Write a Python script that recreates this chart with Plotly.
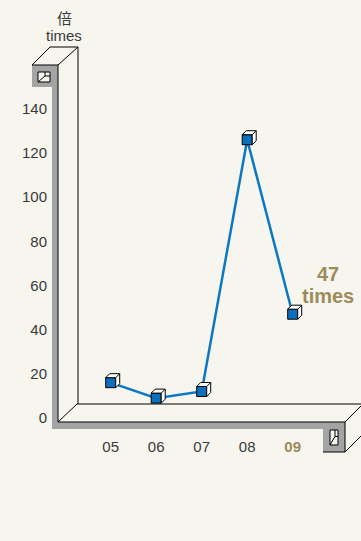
import plotly.graph_objects as go

# ---- data ----
years = ["05", "06", "07", "08", "09"]
values = [16, 9, 12, 126, 47]
y_ticks = [0, 20, 40, 60, 80, 100, 120, 140]
highlight_year = "09"
highlight_num = "47"
highlight_unit = "times"
unit_cn = "倍"
unit_en = "times"

# ---- style ----
BG = "#f6f5ee"
GRAY = "#a4a4a4"
GOLD = "#9d8b5b"
LINE_BLUE = "#0a78c4"
FACE_BLUE = "#0b6fbe"
TXT = "#3a3a3a"
FONT = "Liberation Sans, Arial, sans-serif"

W, H = 361, 541
L, R, T, B = 48, 0, 60, 105
PW, PH = W - L - R, H - T - B


def px(x):
    return (x - L) / PW


def py(y):
    return (H - B - y) / PH


def path(pts, close=True):
    s = "M " + " L ".join(f"{px(a):.5f},{py(b):.5f}" for a, b in pts)
    return s + (" Z" if close else "")


xs = list(range(len(years)))
ticktext = [
    f"<b><span style='color:{GOLD}'>{y}</span></b>" if y == highlight_year else y
    for y in years
]

fig = go.Figure()
fig.add_trace(go.Scatter(
    x=xs, y=values, mode="lines+markers",
    line=dict(color=LINE_BLUE, width=2.5),
    marker=dict(symbol="square", size=10, color=FACE_BLUE,
                line=dict(color="black", width=1)),
    hoverinfo="skip", showlegend=False, cliponaxis=False,
))

shapes = []
# 3D frame (decoration)
shapes.append(dict(type="path", xref="paper", yref="paper", layer="below",
                   path=path([(32, 65), (58, 65), (58, 422), (345, 422), (345, 452),
                              (323, 452), (323, 429), (52, 429), (52, 87), (32, 87)]),
                   fillcolor=GRAY, line=dict(width=0)))
# top face of the upper hook
shapes.append(dict(type="path", xref="paper", yref="paper", layer="below",
                   path=path([(32, 65), (50, 47), (78, 47), (58, 65)]),
                   fillcolor=BG, line=dict(color="black", width=1)))
# openings
for (x0, y0, x1, y1) in [(38, 72, 50, 82), (330, 430, 338, 445)]:
    shapes.append(dict(type="path", xref="paper", yref="paper", layer="below",
                       path=path([(x0, y0), (x1, y0), (x1, y1), (x0, y1)]),
                       fillcolor=BG, line=dict(color="black", width=1)))
    mx, my = (x0 + x1) / 2 + 1, (y0 + y1) / 2 - 1
    shapes.append(dict(type="path", xref="paper", yref="paper", layer="below",
                       path=path([(x0, y1), (mx, my), (x1, my)], close=False),
                       line=dict(color="black", width=1)))
    shapes.append(dict(type="path", xref="paper", yref="paper", layer="below",
                       path=path([(mx, my), (mx, y0)], close=False),
                       line=dict(color="black", width=1)))

frame_lines = [
    ((78, 47), (78, 404)),
    ((58, 65), (58, 422)),
    ((58, 422), (345, 422)),
    ((58, 422), (77, 404)),
    ((77, 404), (365, 404)),
    ((345, 422), (345, 452)),
    ((323, 452), (345, 452)),
    ((345, 422), (364, 403)),
    ((345, 452), (364, 433)),
]
for (a, b) in frame_lines:
    shapes.append(dict(type="line", xref="paper", yref="paper", layer="below",
                       x0=px(a[0]), y0=py(a[1]), x1=px(b[0]), y1=py(b[1]),
                       line=dict(color="black", width=1)))

# cube tops/sides anchored on each data point
cube = "M -5,5 L -1,9 L 9,9 L 9,-1 L 5,-5 L 5,5 Z M 5,5 L 9,9"
for xv, yv in zip(xs, values):
    shapes.append(dict(type="path", xref="x", yref="y", layer="above",
                       xsizemode="pixel", ysizemode="pixel",
                       xanchor=xv, yanchor=yv, path=cube,
                       fillcolor="white", line=dict(color="black", width=1)))

annotations = [
    dict(xref="paper", yref="paper", x=px(64), y=py(17), text=unit_cn,
         showarrow=False, xanchor="center", yanchor="middle",
         font=dict(family="Noto Sans CJK SC", size=15, color=TXT)),
    dict(xref="paper", yref="paper", x=px(64), y=py(35), text=unit_en,
         showarrow=False, xanchor="center", yanchor="middle",
         font=dict(family=FONT, size=15, color=TXT)),
    dict(x=xs[-1], y=values[-1], xref="x", yref="y", text=f"<b>{highlight_num}</b>",
         showarrow=False, xanchor="center", yanchor="middle", xshift=35, yshift=40,
         font=dict(family=FONT, size=20, color=GOLD)),
    dict(x=xs[-1], y=values[-1], xref="x", yref="y", text=f"<b>{highlight_unit}</b>",
         showarrow=False, xanchor="center", yanchor="middle", xshift=35, yshift=18,
         font=dict(family=FONT, size=20, color=GOLD)),
]

fig.update_layout(
    width=W, height=H,
    margin=dict(l=L, r=R, t=T, b=B, pad=0),
    paper_bgcolor=BG, plot_bgcolor=BG,
    font=dict(family=FONT, size=15, color=TXT),
    shapes=shapes, annotations=annotations,
    xaxis=dict(range=[-1.378, 5.501], tickvals=xs, ticktext=ticktext,
               showgrid=False, zeroline=False, showline=False, ticks="",
               tickfont=dict(size=15, color=TXT), fixedrange=True),
    yaxis=dict(range=[-8.15, 162.1], tickvals=y_ticks,
               showgrid=False, zeroline=False, showline=False, ticks="",
               tickfont=dict(size=15, color=TXT), fixedrange=True),
)

fig.write_html("out.html")
